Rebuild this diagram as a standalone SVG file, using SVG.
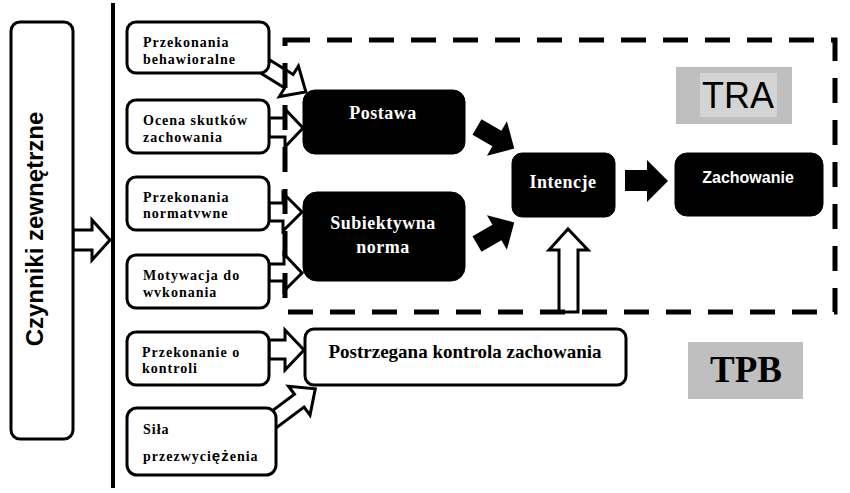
<svg xmlns="http://www.w3.org/2000/svg" width="850" height="493" viewBox="0 0 850 493">
<style>
.wbox{fill:#fff;stroke:#000;stroke-width:3}
.bbox{fill:#000;stroke:#000;stroke-width:1}
.ha{fill:#fff;stroke:#000;stroke-width:3;stroke-linejoin:miter}
.ba{fill:#000}
.st{font-family:"Liberation Serif","Times New Roman",serif;font-weight:bold;font-size:14px;letter-spacing:1px;fill:#000}
.wt{font-family:"Liberation Serif","Times New Roman",serif;font-weight:bold;font-size:18px;letter-spacing:0.5px;fill:#fff;text-anchor:middle}
</style>
<rect width="850" height="493" fill="#fff"/>
<g id="connectors">
  <polygon class="ha" points="73,230 92,230 92,220 110,240 92,260 92,250 73,250"/>
  <polygon class="ha" transform="translate(266,67) rotate(32)" points="0,-8 27,-8 27,-18 47,0 27,18 27,8 0,8"/>
  <polygon class="ha" points="269,118 285,118 285,109 303,128 285,147 285,137 269,137"/>
  <polygon class="ha" points="269,203 283,203 283,193 302,212 283,231 283,221 269,221"/>
  <polygon class="ha" points="269,264 284,264 284,254 302,273 284,291 284,281 269,281"/>
  <polygon class="ha" points="269,340 285,340 285,330 304,350 285,370 285,359 269,359"/>
  <polygon class="ha" transform="translate(272,421) rotate(-36.7)" points="0,-8 34,-8 34,-18 54,0 34,18 34,8 0,8"/>
  <polygon class="ba" transform="translate(477,127) rotate(30)" points="0,-9 23,-9 23,-20 43,0 23,20 23,9 0,9"/>
  <polygon class="ba" transform="translate(477,244) rotate(-30)" points="0,-9 23,-9 23,-20 43,0 23,20 23,9 0,9"/>
  <polygon class="ba" points="625,170 647,170 647,160 668,181 647,202 647,191 625,191"/>
  <polygon class="ha" points="559,312 559,250 549,250 568,229 588,250 578,250 578,312"/>
</g>
<g id="tra-frame">
  <rect x="285" y="40" width="550" height="272" fill="none" stroke="#000" stroke-width="5" stroke-dasharray="25 17"/>
</g>
<g id="divider">
  <line x1="113" y1="3" x2="113" y2="488" stroke="#000" stroke-width="4"/>
</g>
<g id="czynniki">
  <rect class="wbox" x="11" y="22" width="62" height="417" rx="9"/>
  <text transform="translate(43,229) rotate(-90)" text-anchor="middle" font-family="'Liberation Sans',Arial,sans-serif" font-weight="bold" font-size="24">Czynniki zewnętrzne</text>
</g>
<g id="przekonania-behawioralne">
  <rect class="wbox" x="127" y="22" width="142" height="51" rx="9"/>
  <text class="st" x="143" y="47">Przekonania</text>
  <text class="st" x="143" y="64">behawioralne</text>
</g>
<g id="ocena-skutkow">
  <rect class="wbox" x="127" y="100" width="142" height="53" rx="9"/>
  <text class="st" x="143" y="125">Ocena skutków</text>
  <text class="st" x="143" y="142">zachowania</text>
</g>
<g id="przekonania-normatywne">
  <rect class="wbox" x="127" y="177" width="142" height="53" rx="9"/>
  <text class="st" x="143" y="202">Przekonania</text>
  <text class="st" x="143" y="218">normatvwne</text>
</g>
<g id="motywacja">
  <rect class="wbox" x="127" y="255" width="142" height="53" rx="9"/>
  <text class="st" x="143" y="280">Motywacja do</text>
  <text class="st" x="143" y="297">wvkonania</text>
</g>
<g id="przekonanie-kontroli">
  <rect class="wbox" x="127" y="332" width="142" height="53" rx="9"/>
  <text class="st" x="142" y="357">Przekonanie o</text>
  <text class="st" x="142" y="373">kontroli</text>
</g>
<g id="sila">
  <rect class="wbox" x="127" y="408" width="149" height="67" rx="10"/>
  <text class="st" x="143" y="434">Siła</text>
  <text class="st" x="143" y="461">przezwyci<tspan font-family="'Liberation Sans',Arial,sans-serif" font-size="15">ęż</tspan>enia</text>
</g>
<g id="postawa">
  <rect class="bbox" x="303" y="90" width="162" height="64" rx="12"/>
  <text class="wt" x="383" y="119">Postawa</text>
</g>
<g id="subiektywna-norma">
  <rect class="bbox" x="303" y="192" width="162" height="89" rx="14"/>
  <text class="wt" x="383" y="229">Subiektywna</text>
  <text class="wt" x="383" y="253">norma</text>
</g>
<g id="intencje">
  <rect class="bbox" x="512" y="153" width="103" height="64" rx="10"/>
  <text class="wt" x="563" y="188">Intencje</text>
</g>
<g id="zachowanie">
  <rect class="bbox" x="675" y="153" width="148" height="63" rx="12"/>
  <text x="748" y="183" text-anchor="middle" font-family="'Liberation Sans',Arial,sans-serif" font-weight="bold" font-size="16" fill="#fff">Zachowanie</text>
</g>
<g id="postrzegana-kontrola">
  <rect class="wbox" x="305" y="329" width="321" height="56" rx="9"/>
  <text x="465" y="358" text-anchor="middle" font-family="'Liberation Serif','Times New Roman',serif" font-weight="bold" font-size="19">Postrzegana kontrola zachowania</text>
</g>
<g id="tra-label">
  <rect x="676" y="67" width="116" height="57" fill="#bfbfbf"/>
  <rect x="700" y="73" width="77" height="44" fill="#d4d4d4"/>
  <text x="738" y="108" text-anchor="middle" font-family="'Liberation Sans',Arial,sans-serif" font-size="36" fill="#000">TRA</text>
</g>
<g id="tpb-label">
  <rect x="688" y="342" width="115" height="57" fill="#bfbfbf"/>
  <text x="746" y="382" text-anchor="middle" font-family="'Liberation Serif','Times New Roman',serif" font-weight="bold" font-size="37" fill="#000">TPB</text>
</g>
</svg>
